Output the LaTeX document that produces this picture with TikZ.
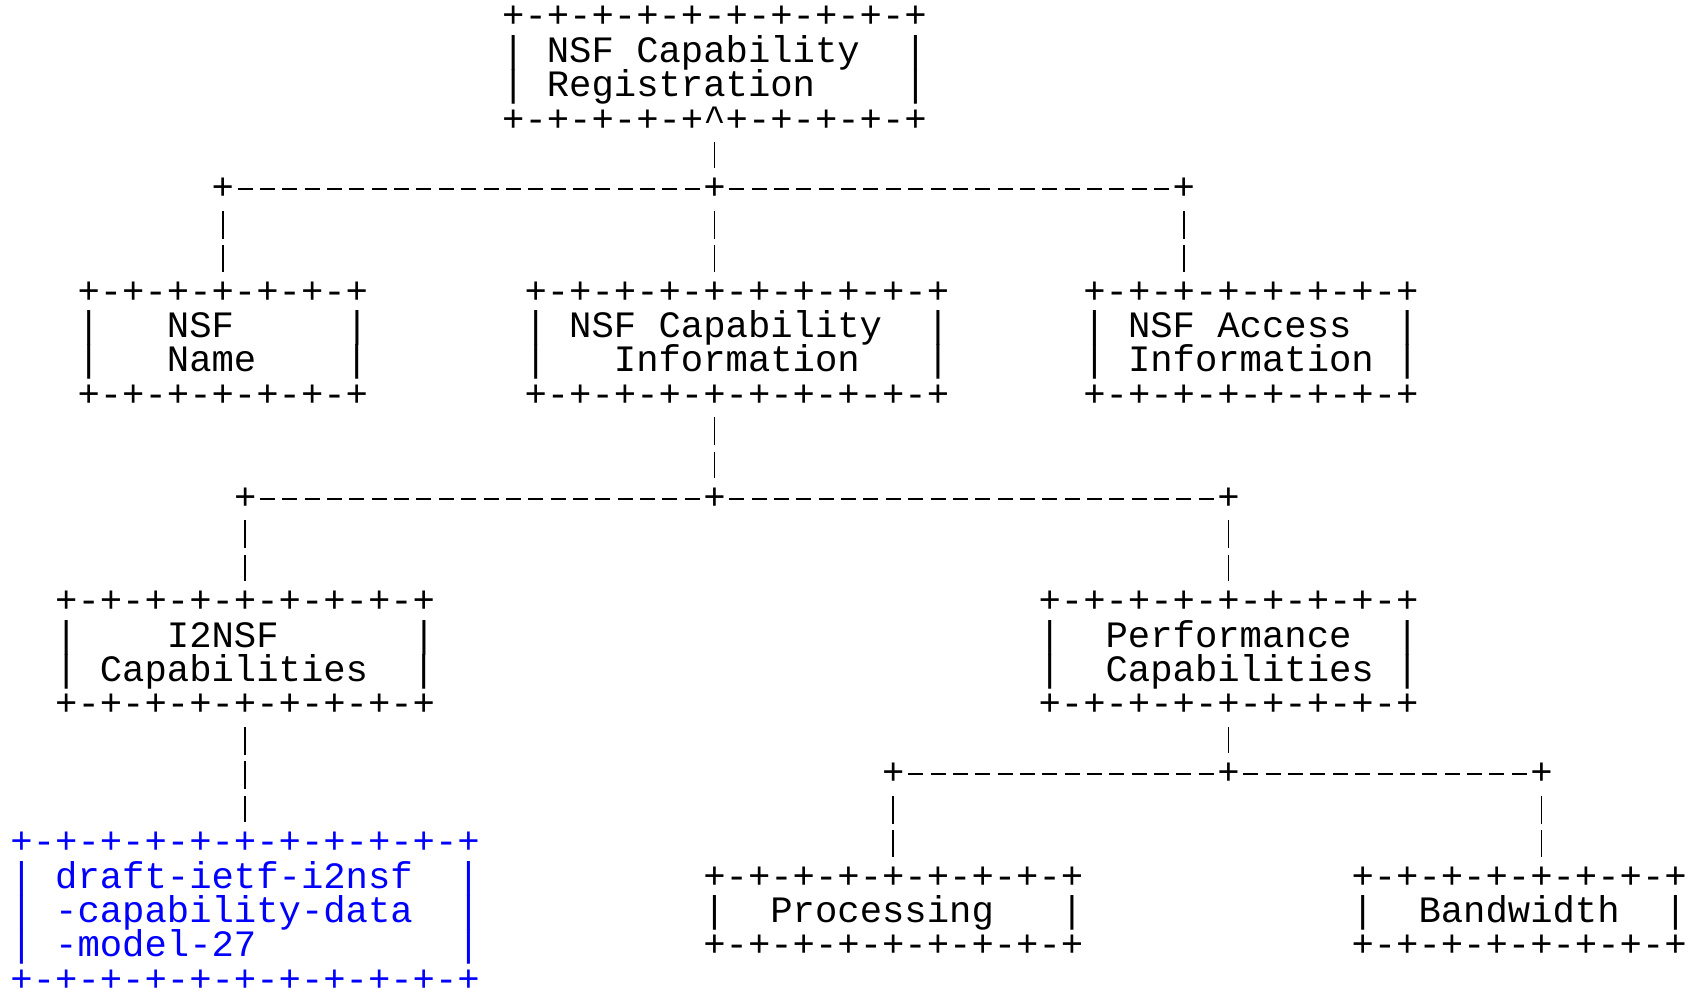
\documentclass[tikz,border=0pt]{standalone}
\usepackage{fontspec}
\setmonofont{Liberation Mono}
\usepackage{tikz}
\usetikzlibrary{calc}

\newcommand{\asciifont}{\fontsize{18.622pt}{17.2pt}\ttfamily\selectfont\lineskiplimit=-100pt}

\begin{document}
\begin{tikzpicture}[x=11.175pt,y=-17.2pt,
    box/.style={inner sep=0pt,outer sep=0pt,anchor=south west,align=left,font=\asciifont},
    junc/.style={inner sep=0pt,outer sep=0pt,anchor=base,font=\asciifont},
    wire/.style={line width=0.9pt},
    hwire/.style={wire,dash pattern=on 7.5pt off 3.675pt,shorten <=1.84pt},
    vwire/.style={wire,dash pattern=on 14pt off 3.2pt,shorten <=5.45pt,shorten >=5pt}]
\useasboundingbox (-5.25pt,14pt) rectangle (838.75pt,-485.5pt);

% boxes
\node[box] (reg) at (22,3) {+-+-+-+-+-+-+-+-+-+\\
|~NSF~Capability~~|\\
|~Registration~~~~|\\
+-+-+-+-+\char94+-+-+-+-+};

\node[box] (name) at (3,11) {+-+-+-+-+-+-+\\
|~~~NSF~~~~~|\\
|~~~Name~~~~|\\
+-+-+-+-+-+-+};

\node[box] (info) at (23,11) {+-+-+-+-+-+-+-+-+-+\\
|~NSF~Capability~~|\\
|~~~Information~~~|\\
+-+-+-+-+-+-+-+-+-+};

\node[box] (access) at (48,11) {+-+-+-+-+-+-+-+\\
|~NSF~Access~~|\\
|~Information~|\\
+-+-+-+-+-+-+-+};

\node[box] (i2nsf) at (2,20) {+-+-+-+-+-+-+-+-+\\
|~~~~I2NSF~~~~~~|\\
|~Capabilities~~|\\
+-+-+-+-+-+-+-+-+};

\node[box] (perf) at (46,20) {+-+-+-+-+-+-+-+-+\\
|~~Performance~~|\\
|~~Capabilities~|\\
+-+-+-+-+-+-+-+-+};

\node[box,text=blue] (draft) at (0,28) {+-+-+-+-+-+-+-+-+-+-+\\
|~draft-ietf-i2nsf~~|\\
|~-capability-data~~|\\
|~-model-27~~~~~~~~~|\\
+-+-+-+-+-+-+-+-+-+-+};

\node[box] (proc) at (31,27) {+-+-+-+-+-+-+-+-+\\
|~~Processing~~~|\\
+-+-+-+-+-+-+-+-+};

\node[box] (bw) at (60,27) {+-+-+-+-+-+-+-+\\
|~~Bandwidth~~|\\
+-+-+-+-+-+-+-+};

% junctions
\node[junc] (j1a) at (9.5,5) {+};
\node[junc] (j1b) at (31.5,5) {+};
\node[junc] (j1c) at (52.5,5) {+};
\node[junc] (j2a) at (10.5,14) {+};
\node[junc] (j2b) at (31.5,14) {+};
\node[junc] (j2c) at (54.5,14) {+};
\node[junc] (j3a) at (39.5,22) {+};
\node[junc] (j3b) at (54.5,22) {+};
\node[junc] (j3c) at (68.5,22) {+};

% wires
\draw[vwire] (j1b |- reg.south) -- (j1b);
\draw[hwire] (j1a) -- (j1b);
\draw[hwire] (j1b) -- (j1c);
\draw[vwire] (j1a) -- (j1a |- name.north);
\draw[vwire] (j1b) -- (j1b |- info.north);
\draw[vwire] (j1c) -- (j1c |- access.north);

\draw[vwire] (j2b |- info.south) -- (j2b);
\draw[hwire] (j2a) -- (j2b);
\draw[hwire] (j2b) -- (j2c);
\draw[vwire] (j2a) -- (j2a |- i2nsf.north);
\draw[vwire] (j2c) -- (j2c |- perf.north);
\draw[vwire] (j2a |- i2nsf.south) -- (j2a |- draft.north);

\draw[vwire] (j3b |- perf.south) -- (j3b);
\draw[hwire] (j3a) -- (j3b);
\draw[hwire] (j3b) -- (j3c);
\draw[vwire] (j3a) -- (j3a |- proc.north);
\draw[vwire] (j3c) -- (j3c |- bw.north);
\end{tikzpicture}
\end{document}
